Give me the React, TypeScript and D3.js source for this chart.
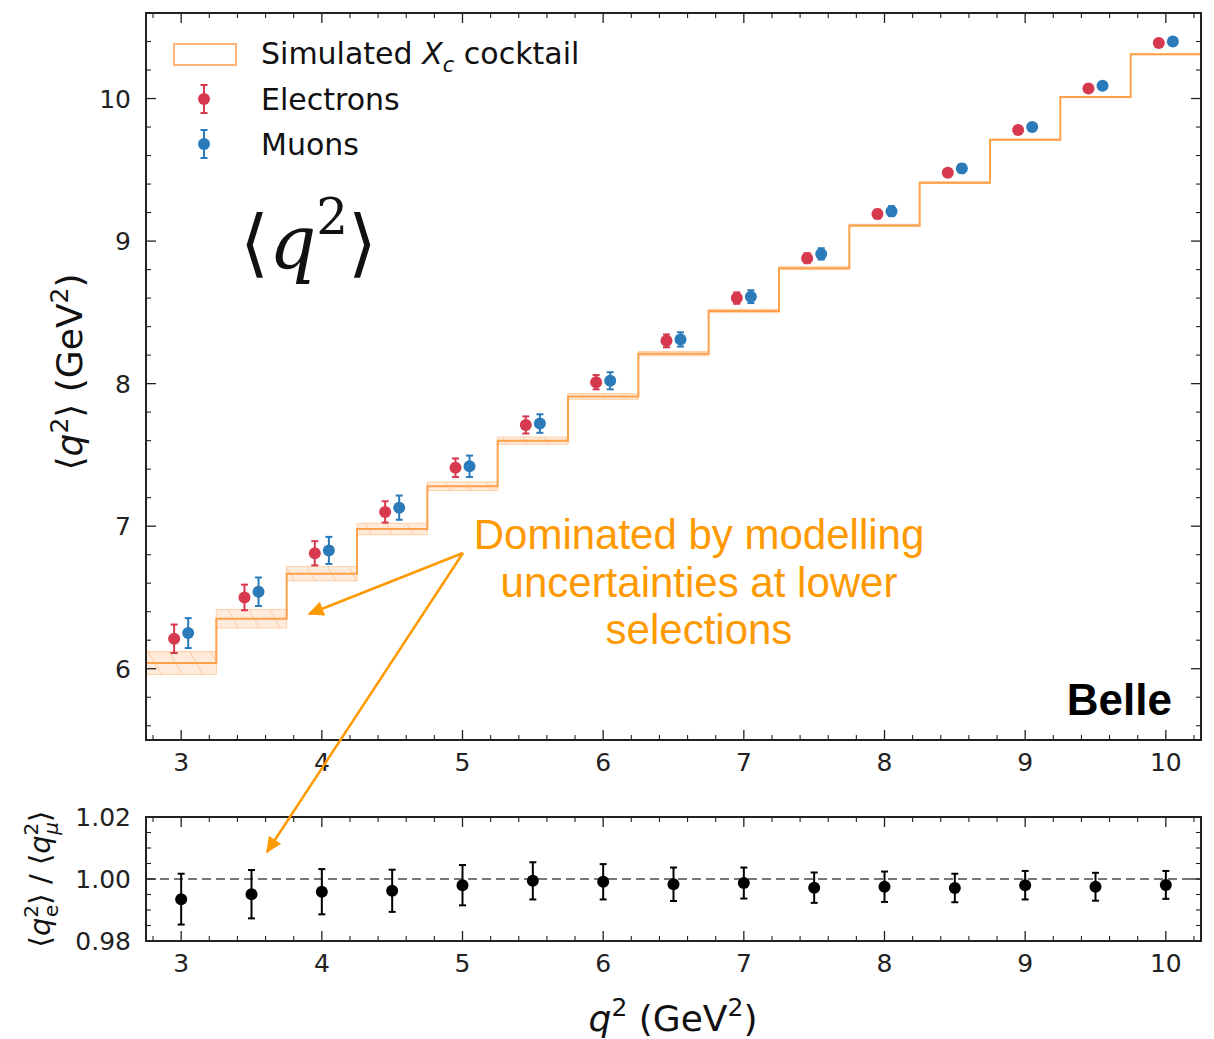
import React from "react";
import * as d3 from "d3";

// Lower q^2 selection thresholds (GeV^2)
const thresholds = [3, 3.5, 4, 4.5, 5, 5.5, 6, 6.5, 7, 7.5, 8, 8.5, 9, 9.5, 10];

// <q^2> measured with electrons
const electronMean = [6.21, 6.5, 6.81, 7.1, 7.41, 7.71, 8.01, 8.3, 8.6, 8.88, 9.19, 9.48, 9.78, 10.07, 10.39];
const electronErr = [0.1, 0.09, 0.085, 0.075, 0.065, 0.06, 0.05, 0.045, 0.04, 0.035, 0.03, 0.025, 0.02, 0.02, 0.015];

// <q^2> measured with muons
const muonMean = [6.25, 6.54, 6.83, 7.13, 7.42, 7.72, 8.02, 8.31, 8.61, 8.91, 9.21, 9.51, 9.8, 10.09, 10.4];
const muonErr = [0.105, 0.1, 0.095, 0.085, 0.075, 0.065, 0.06, 0.05, 0.045, 0.04, 0.035, 0.03, 0.025, 0.02, 0.02];

// Simulated X_c cocktail expectation and its modelling uncertainty
const cocktailMean = [6.04, 6.35, 6.666, 6.98, 7.28, 7.6, 7.91, 8.21, 8.51, 8.81, 9.11, 9.41, 9.71, 10.01, 10.31];
const cocktailErr = [0.08, 0.065, 0.05, 0.04, 0.03, 0.025, 0.02, 0.015, 0.012, 0.01, 0.008, 0.006, 0.005, 0.004, 0.003];

// Electron / muon ratio
const ratioValue = [0.9935, 0.9951, 0.9959, 0.9962, 0.998, 0.9994, 0.9991, 0.9983, 0.9987, 0.9972, 0.9975, 0.9971, 0.998, 0.9975, 0.9981];
const ratioErr = [0.0082, 0.0078, 0.0073, 0.0068, 0.0065, 0.006, 0.0057, 0.0054, 0.005, 0.0049, 0.0049, 0.0046, 0.0046, 0.0045, 0.0045];

const xTickValues = [3, 4, 5, 6, 7, 8, 9, 10];
const yTopTickValues = [6, 7, 8, 9, 10];
const yBottomTickValues = [0.98, 1.0, 1.02];

const W = 1214;
const H = 1039;
const L = 146;
const R = 1201;
const topPanel = { top: 13, bottom: 740 };
const botPanel = { top: 817, bottom: 941 };

const ORANGE_LINE = "#ffa04a";
const RED = "#d6384e";
const BLUE = "#2b7bba";
const ANNOT = "#ff9900";
const SPINE = "#222";
const SANS = "'DejaVu Sans', sans-serif";
const HELV = "'Liberation Sans', Arial, sans-serif";
const TICK_FS = 25;

const x = d3.scaleLinear().domain([2.75, 10.25]).range([L, R]);
const yTop = d3.scaleLinear().domain([5.5, 10.6]).range([topPanel.bottom, topPanel.top]);
const yBot = d3.scaleLinear().domain([0.98, 1.02]).range([botPanel.bottom, botPanel.top]);

function range(a: number, b: number, step: number) {
  const out: number[] = [];
  for (let v = a; v <= b + 1e-9; v += step) out.push(+v.toFixed(6));
  return out;
}

const xMinor = range(2.8, 10.2, 0.2).filter((v) => Math.abs(v - Math.round(v)) > 1e-6);
const yTopMinor = range(5.6, 10.6, 0.2).filter((v) => Math.abs(v - Math.round(v)) > 1e-6);
const yBotMinor = [0.985, 0.99, 0.995, 1.005, 1.01, 1.015];

function Frame({ top, bottom, yScale, yMajor, yMinor }: any) {
  const maj = 10;
  const min = 5;
  return (
    <g>
      {xTickValues.map((v) => (
        <g key={"xM" + v}>
          <line x1={x(v)} x2={x(v)} y1={bottom} y2={bottom - maj} stroke={SPINE} strokeWidth={1.3} />
          <line x1={x(v)} x2={x(v)} y1={top} y2={top + maj} stroke={SPINE} strokeWidth={1.3} />
        </g>
      ))}
      {xMinor.map((v) => (
        <g key={"xm" + v}>
          <line x1={x(v)} x2={x(v)} y1={bottom} y2={bottom - min} stroke={SPINE} strokeWidth={1.1} />
          <line x1={x(v)} x2={x(v)} y1={top} y2={top + min} stroke={SPINE} strokeWidth={1.1} />
        </g>
      ))}
      {yMajor.map((v: number) => (
        <g key={"yM" + v}>
          <line x1={L} x2={L + maj} y1={yScale(v)} y2={yScale(v)} stroke={SPINE} strokeWidth={1.3} />
          <line x1={R} x2={R - maj} y1={yScale(v)} y2={yScale(v)} stroke={SPINE} strokeWidth={1.3} />
        </g>
      ))}
      {yMinor.map((v: number) => (
        <g key={"ym" + v}>
          <line x1={L} x2={L + min} y1={yScale(v)} y2={yScale(v)} stroke={SPINE} strokeWidth={1.1} />
          <line x1={R} x2={R - min} y1={yScale(v)} y2={yScale(v)} stroke={SPINE} strokeWidth={1.1} />
        </g>
      ))}
      <rect x={L} y={top} width={R - L} height={bottom - top} fill="none" stroke={SPINE} strokeWidth={2} />
      {xTickValues.map((v) => (
        <text key={"xl" + v} x={x(v)} y={bottom + 31} textAnchor="middle" fontFamily={SANS} fontSize={TICK_FS} fill="#222">
          {v}
        </text>
      ))}
    </g>
  );
}

function ErrorPoint({ cx, cy, y1, y2, color, r = 6 }: any) {
  return (
    <g>
      <line x1={cx} x2={cx} y1={y1} y2={y2} stroke={color} strokeWidth={2} />
      <line x1={cx - 3.5} x2={cx + 3.5} y1={y1} y2={y1} stroke={color} strokeWidth={2} />
      <line x1={cx - 3.5} x2={cx + 3.5} y1={y2} y2={y2} stroke={color} strokeWidth={2} />
      <circle cx={cx} cy={cy} r={r} fill={color} />
    </g>
  );
}

export default function App() {
  const binEdges = thresholds.map((t) => [t - 0.25, t + 0.25]);
  const stepLine = d3
    .line<[number, number]>()
    .x((d) => x(d[0]))
    .y((d) => yTop(d[1]))
    .curve(d3.curveStepAfter)(
    [...thresholds.map((t, i) => [t - 0.25, cocktailMean[i]] as [number, number]), [10.25, cocktailMean[cocktailMean.length - 1]]]
  );

  const arrowStart = { x: 463, y: 553 };

  return (
    <svg width={W} height={H} style={{ position: "absolute", left: 0, top: 0, background: "#fff" }}>
      <defs>
        <pattern id="hatch" patternUnits="userSpaceOnUse" width={18} height={18} patternTransform="rotate(-30)">
          <line x1={0} y1={0} x2={0} y2={18} stroke="#ffb277" strokeWidth={1} />
        </pattern>
        <clipPath id="clipTop">
          <rect x={L} y={topPanel.top} width={R - L} height={topPanel.bottom - topPanel.top} />
        </clipPath>
        <marker id="arrowHead" viewBox="0 0 10 10" refX={9} refY={5} markerWidth={6.5} markerHeight={6.5} orient="auto-start-reverse">
          <path d="M0,0.5 L10,5 L0,9.5 z" fill={ANNOT} />
        </marker>
      </defs>

      {/* cocktail uncertainty bands */}
      <g clipPath="url(#clipTop)">
        {binEdges.map(([a, b], i) => (
          <g key={"band" + i}>
            <rect
              x={x(a)}
              y={yTop(cocktailMean[i] + cocktailErr[i])}
              width={x(b) - x(a)}
              height={yTop(cocktailMean[i] - cocktailErr[i]) - yTop(cocktailMean[i] + cocktailErr[i])}
              fill="#ffe6d2"
              fillOpacity={0.8}
              stroke="#ffd0a8"
              strokeWidth={1}
            />
            <rect
              x={x(a)}
              y={yTop(cocktailMean[i] + cocktailErr[i])}
              width={x(b) - x(a)}
              height={yTop(cocktailMean[i] - cocktailErr[i]) - yTop(cocktailMean[i] + cocktailErr[i])}
              fill="url(#hatch)"
            />
          </g>
        ))}
        <path d={stepLine || ""} fill="none" stroke={ORANGE_LINE} strokeWidth={2} />
      </g>

      {/* measured points */}
      {thresholds.map((t, i) => (
        <ErrorPoint
          key={"e" + t}
          cx={x(t - 0.05)}
          cy={yTop(electronMean[i])}
          y1={yTop(electronMean[i] + electronErr[i])}
          y2={yTop(electronMean[i] - electronErr[i])}
          color={RED}
        />
      ))}
      {thresholds.map((t, i) => (
        <ErrorPoint
          key={"m" + t}
          cx={x(t + 0.05)}
          cy={yTop(muonMean[i])}
          y1={yTop(muonMean[i] + muonErr[i])}
          y2={yTop(muonMean[i] - muonErr[i])}
          color={BLUE}
        />
      ))}

      <Frame top={topPanel.top} bottom={topPanel.bottom} yScale={yTop} yMajor={yTopTickValues} yMinor={yTopMinor} />
      {yTopTickValues.map((v) => (
        <text key={"yl" + v} x={L - 15} y={yTop(v) + 9} textAnchor="end" fontFamily={SANS} fontSize={TICK_FS} fill="#222">
          {v}
        </text>
      ))}

      {/* legend */}
      <rect x={174} y={44} width={62} height={21} fill="#fff" stroke="#ffb47a" strokeWidth={2} />
      <text x={261} y={64} fontFamily={SANS} fontSize={30} fill="#111">
        Simulated <tspan fontStyle="italic">X</tspan>
        <tspan fontStyle="italic" fontSize={21} dy={8}>c</tspan>
        <tspan dy={-8}> cocktail</tspan>
      </text>
      <ErrorPoint cx={204} cy={99} y1={85} y2={113} color={RED} />
      <text x={261} y={110} fontFamily={SANS} fontSize={30} fill="#111">Electrons</text>
      <ErrorPoint cx={204} cy={144} y1={130} y2={158} color={BLUE} />
      <text x={261} y={155} fontFamily={SANS} fontSize={30} fill="#111">Muons</text>

      {/* big <q^2> label */}
      <text x={240} y={268} fontFamily="'DejaVu Serif', serif" fontSize={74} fill="#111">
        ⟨<tspan fontStyle="italic">q</tspan>
        <tspan fontSize={50} dy={-34}>2</tspan>
        <tspan dy={34}>⟩</tspan>
      </text>

      <text x={1172} y={715} textAnchor="end" fontFamily={HELV} fontWeight="bold" fontSize={44} fill="#000">
        Belle
      </text>

      {/* top y label */}
      <text transform="translate(82,372) rotate(-90)" textAnchor="middle" fontFamily={SANS} fontSize={36} fill="#111">
        ⟨<tspan fontStyle="italic">q</tspan>
        <tspan fontSize={25} dy={-14}>2</tspan>
        <tspan dy={14}>⟩ (GeV</tspan>
        <tspan fontSize={25} dy={-14}>2</tspan>
        <tspan dy={14}>)</tspan>
      </text>

      {/* ratio panel */}
      <line x1={L} x2={R} y1={yBot(1)} y2={yBot(1)} stroke="#777" strokeWidth={2} strokeDasharray="9,5" />
      {thresholds.map((t, i) => (
        <ErrorPoint
          key={"r" + t}
          cx={x(t)}
          cy={yBot(ratioValue[i])}
          y1={yBot(ratioValue[i] + ratioErr[i])}
          y2={yBot(ratioValue[i] - ratioErr[i])}
          color="#000"
          r={6}
        />
      ))}
      <Frame top={botPanel.top} bottom={botPanel.bottom} yScale={yBot} yMajor={yBottomTickValues} yMinor={yBotMinor} />
      {yBottomTickValues.map((v) => (
        <text key={"yb" + v} x={L - 15} y={yBot(v) + 9} textAnchor="end" fontFamily={SANS} fontSize={TICK_FS} fill="#222">
          {v.toFixed(2)}
        </text>
      ))}
      <text transform="translate(50,879) rotate(-90)" textAnchor="middle" fontFamily={SANS} fontSize={29} fill="#111">
        ⟨<tspan fontStyle="italic">q</tspan>
        <tspan fontSize={20} dy={-12}>2</tspan>
        <tspan fontSize={20} dx={-12} dy={20}>e</tspan>
        <tspan dy={-8}>⟩ / ⟨</tspan>
        <tspan fontStyle="italic">q</tspan>
        <tspan fontSize={20} dy={-12}>2</tspan>
        <tspan fontSize={20} fontStyle="italic" dx={-12} dy={20}>μ</tspan>
        <tspan dy={-8}>⟩</tspan>
      </text>

      <text x={673} y={1031} textAnchor="middle" fontFamily={SANS} fontSize={36} fill="#111">
        <tspan fontStyle="italic">q</tspan>
        <tspan fontSize={25} dy={-15}>2</tspan>
        <tspan dy={15}> (GeV</tspan>
        <tspan fontSize={25} dy={-15}>2</tspan>
        <tspan dy={15}>)</tspan>
      </text>

      {/* annotation */}
      <text textAnchor="middle" fontFamily={HELV} fontSize={42} fill={ANNOT}>
        <tspan x={699} y={549}>Dominated by modelling</tspan>
        <tspan x={699} y={597}>uncertainties at lower</tspan>
        <tspan x={699} y={644}>selections</tspan>
      </text>
      <line x1={arrowStart.x} y1={arrowStart.y} x2={309} y2={614} stroke={ANNOT} strokeWidth={2.5} markerEnd="url(#arrowHead)" />
      <line x1={arrowStart.x} y1={arrowStart.y} x2={267} y2={852} stroke={ANNOT} strokeWidth={2.5} markerEnd="url(#arrowHead)" />
    </svg>
  );
}
